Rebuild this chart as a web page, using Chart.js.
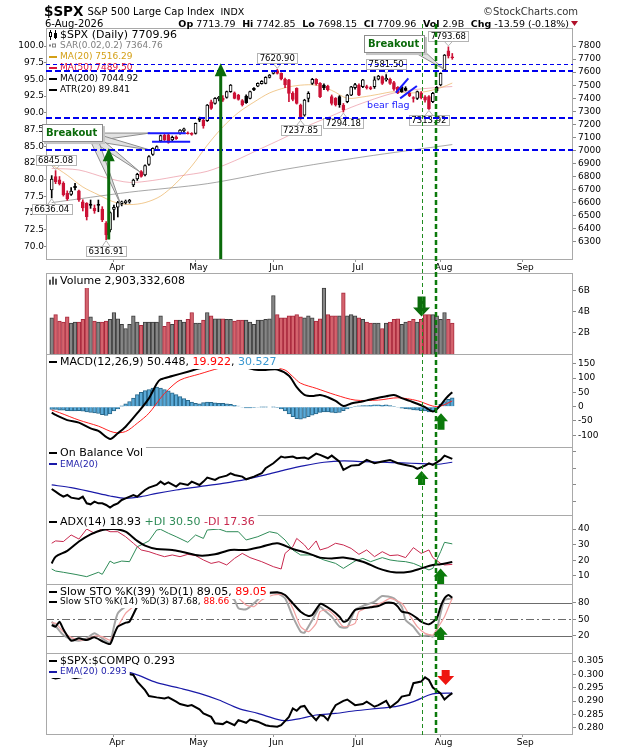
<!DOCTYPE html>
<html>
<head>
<meta charset="utf-8">
<title>$SPX Daily</title>
<script src="https://cdn.jsdelivr.net/npm/chart.js@4.4.1/dist/chart.umd.min.js"></script>
<style>
html,body{margin:0;padding:0;background:#ffffff;}
#wrap{position:relative;width:620px;height:750px;overflow:hidden;background:#fff;}
#wrap canvas{position:absolute;left:0;top:0;}
</style>
</head>
<body>
<div id="wrap">
<canvas id="cPrice" width="620" height="750"></canvas>
<canvas id="cVol" width="620" height="750"></canvas>
<canvas id="cMacd" width="620" height="750"></canvas>
<canvas id="cObv" width="620" height="750"></canvas>
<canvas id="cAdx" width="620" height="750"></canvas>
<canvas id="cSto" width="620" height="750"></canvas>
<canvas id="cRatio" width="620" height="750"></canvas>
</div>
<script>
// ================= DATA =================
const monthNames = ['Apr','May','Jun','Jul','Aug','Sep'];
const monthIdx   = [16,37,57,78,100,121];          // bar index of first session of each month
const priceTicks = [6300,6400,6500,6600,6700,6800,6900,7000,7100,7200,7300,7400,7500,7600,7700,7800];
const pctTicks   = [70,72.5,75,77.5,80,82.5,85,87.5,90,92.5,95,97.5,100];
const volTicks   = [2,4,6];
const macdTicks  = [-100,-50,0,50,100,150];
const obvTicks   = [4,8,12,16];
const adxTicks   = [10,20,30,40];
const stoTicks   = [20,50,80];
const ratioTicks = [0.280,0.285,0.290,0.295,0.300,0.305];

const opens = [6697,6800,6775,6748,6672,6662,6725,6690,6607,6594, 6588,6556,6586,6551,6441,6390,6548,6566,6592,6600,
 6606,6735,6781,6837,6812,6893,6970,7003,7072,7118, 7120,7080,7105,7131,7150,7135,7130,7131,7246,7233,
 7228,7373,7361,7395,7400,7407,7450,7442,7424,7381, 7417,7399,7476,7493,7512,7514,7560,7590,7611,7590,
 7545,7540,7437,7476,7348,7271,7399,7514,7545,7514, 7500,7493,7412,7399,7412,7348,7373,7424,7480,7501,
 7488,7490,7482,7488,7545,7565,7540,7545,7520,7483, 7488,7478,7440,7404,7399,7440,7410,7412,7373,7483,
 7501,7616,7764,7713.79];
const highs = [6807,6845.08,6800,6760,6690,6715,6748,6697,6622,6600, 6620,6582,6620,6569,6454,6530,6582,6610,6612,6620,
 6625,6780,6825,6845,6890,6960,7020,7035,7118,7125, 7128,7110,7112,7160,7172,7142,7136,7210,7255,7240,
 7352,7385,7405,7415,7420,7455,7505,7448,7430,7390, 7425,7455,7482,7518,7535,7565,7582,7612,7620.90,7595,
 7555,7545,7450,7480,7355,7392,7450,7552,7550,7520, 7510,7500,7425,7405,7420,7360,7430,7492,7515,7510,
 7545,7500,7490,7565,7575,7570,7581.50,7555,7530,7490, 7495,7488,7448,7412,7455,7450,7420,7420,7445,7490,
 7595,7735,7793.68,7742.85];
const lows = [6636.04,6745,6735,6650,6618,6655,6697,6610,6536,6467, 6556,6518,6530,6454,6316.91,6375,6467,6490,6575,6590,
 6596,6722,6770,6795,6805,6885,6962,6998,7065,7075, 7055,7070,7085,7125,7140,7125,7116,7125,7220,7170,
 7222,7315,7355,7380,7375,7400,7445,7395,7385,7340, 7360,7395,7458,7488,7508,7510,7555,7585,7585,7540,
 7480,7373,7380,7355,7237.85,7262,7372,7505,7500,7405, 7465,7455,7348,7340,7330,7294.18,7365,7420,7470,7420,
 7480,7470,7465,7475,7540,7505,7530,7505,7460,7435, 7445,7455,7412,7370,7390,7395,7370,7313.92,7365,7445,
 7495,7610,7708,7698.15];
const closes = [6781,6760,6745,6660,6628,6688,6715,6620,6560,6492, 6578,6536,6578,6467,6352,6523,6564,6600,6607,6612,
 6618,6773,6817,6800,6883,6952,7016,7029,7113,7080, 7062,7100,7090,7156,7165,7128,7122,7207,7232,7187,
 7348,7322,7399,7408,7385,7450,7501,7399,7391,7348, 7366,7450,7463,7514,7530,7560,7578,7603,7590,7548,
 7501,7437,7391,7361,7253,7386,7437,7545,7510,7412, 7480,7463,7361,7348,7350,7310,7424,7488,7505,7424,
 7540,7478,7474,7540,7570,7514,7552,7514,7470,7442, 7450,7460,7420,7398,7450,7405,7385,7318,7437,7455,
 7590,7731,7723.55,7709.96];
// volume in billions of shares
const volumesB = [3.4,3.7,3.1,3.0,3.5,2.9,3.0,3.0,3.25,6.45, 3.5,3.1,3.0,3.0,3.1,3.25,3.9,3.3,2.8,2.4,
 2.8,3.6,3.0,2.7,3.0,3.0,3.0,3.0,3.6,2.6, 3.0,2.8,3.2,3.2,3.0,3.25,3.9,2.9,2.9,3.2,
 3.9,3.6,3.3,3.3,3.3,3.25,3.25,3.1,3.2,3.2, 3.2,3.0,2.8,3.2,3.2,3.25,3.3,5.5,3.7,3.4,
 3.4,3.6,3.6,3.7,3.5,3.4,3.6,3.4,3.1,3.3, 6.2,3.7,3.6,3.6,3.6,5.75,3.6,3.7,3.6,3.4,
 3.25,3.0,2.9,2.9,2.9,2.4,2.9,3.0,3.25,3.3, 2.8,3.0,3.1,3.25,3.0,3.25,3.7,3.7,3.7,3.6,
 3.25,3.9,3.25,2.903];
// overlays read as [bar index, value]
const ma20Pts  = [[0,6890],[4,6810],[8,6720],[12,6660],[16,6605],[20,6585],[24,6600],[28,6650],[32,6750],[36,6880],[40,7040],[44,7180],[48,7290],[52,7370],[56,7440],[60,7480],[64,7500],[68,7500],[72,7460],[76,7400],[80,7410],[84,7430],[88,7450],[92,7440],[96,7450],[100,7480],[103,7516.29]];
const ma50Pts  = [[0,6862],[7,6850],[14,6790],[20,6755],[26,6770],[33,6805],[40,6840],[47,6920],[53,7003],[60,7100],[66,7190],[72,7265],[77,7330],[83,7395],[88,7440],[94,7468],[100,7484],[103,7489.5]];
const ma200Pts = [[0,6600],[20,6680],[40,6745],[60,6855],[80,6950],[103,7044.92]];

const macdPts   = [[0,-21],[1,-29],[4,-47],[7,-56],[10,-76],[12,-85],[15,-113],[17,-93],[19,-70],[22,-23],[25,29],[27,80],[28,95],[31,107],[35,122],[38,134],[41,140],[43,148],[45,153],[47,152],[49,142],[52,130],[55,128],[58,130],[61,108],[63,68],[65,41],[67,37],[69,41],[71,33],[73,20],[75,2],[77,11],[79,16],[81,22],[84,31],[86,36],[88,41],[90,30],[92,20],[94,10],[96,-2],[98,-17],[99,-9],[100,5],[101,23],[102,38],[103,50.448]];
const signalPts = [[0,-12],[2,-21],[7,-47],[12,-68],[16,-90],[19,-87],[22,-58],[25,-23],[28,30],[30,60],[33,93],[38,114],[43,134],[46,140],[50,145],[54,142],[57,136],[60,128],[62,105],[64,82],[68,64],[73,41],[78,23],[84,23],[89,31],[94,21],[98,2],[100,2],[103,19.922]];
const macdHist  = [-10,-10,-12,-12,-14,-15,-15,-14,-16,-18, -20,-22,-24,-28,-31,-25,-15,-8,3,10,
 18,30,42,50,56,60,65,68,65,60, 55,48,42,35,28,22,16,12,10,14, 16,15,13,12,12,10,8,5,2,-2,
 -4,-4,-3,-2,-1,-1,0,-1,-3,-8, -15,-25,-35,-42,-44,-40,-35,-30,-25,-20, -18,-18,-20,-22,-20,-14,-8,-3,1,3,
 4,4,5,6,6,5,6,4,1,-2, -5,-7,-9,-11,-12,-14,-15,-18,-17,-5, 8,18,26,30.527];

const obvPts    = [[0,7.04],[1,6.4],[2,5.76],[3,5.2],[4,5.6],[5,4.96],[7,4.64],[8,5.2],[9,3.6],[10,3.36],[11,4.0],[12,3.6],[13,3.6],[14,3.2],[15,2.56],[16,3.2],[17,3.6],[18,4.4],[19,4.8],[21,5.6],[22,5.2],[23,6.0],[24,6.8],[25,7.36],[27,8.0],[28,8.8],[29,8.16],[30,8.64],[32,7.6],[33,8.4],[35,8.0],[36,8.8],[38,8.0],[39,8.8],[40,9.76],[42,9.2],[43,9.76],[45,10.24],[46,10.8],[47,10.4],[49,10.0],[50,9.36],[52,10.0],[54,10.8],[55,12.0],[57,13.2],[59,14.8],[60,14.56],[62,14.8],[63,14.4],[65,14.56],[66,14.24],[68,15.52],[69,15.2],[71,14.4],[72,15.04],[74,13.6],[75,11.6],[77,12.64],[79,12.8],[81,14.0],[83,13.2],[85,13.6],[87,14.0],[89,13.2],[91,12.8],[93,12.4],[94,11.84],[96,12.64],[97,13.2],[98,12.8],[100,14.0],[101,15.04],[103,14.24]];
const obvEmaPts = [[0,8.0],[5,7.36],[10,6.4],[15,5.36],[19,4.8],[23,5.2],[27,6.0],[32,6.8],[38,7.6],[44,8.4],[50,9.36],[55,10.4],[60,11.6],[65,12.64],[70,13.44],[75,13.76],[80,13.6],[85,13.44],[90,13.28],[95,13.12],[99,12.96],[103,13.44]];

const adxPts   = [[0,18],[1,22.3],[4,26],[7,32],[10,36.6],[13,39.4],[16,40],[19,38.3],[22,32.4],[24,29.4],[27,27.2],[31,26.6],[34,25.1],[38,23],[42,23.8],[46,26.6],[50,26.6],[54,28.7],[58,30.9],[62,27.2],[66,24.4],[69,21.7],[72,21.2],[75,21.7],[80,19.1],[84,14.8],[88,12.3],[92,12.7],[95,14.8],[98,17],[100,17.4],[103,18.93]];
const pdiPts   = [[0,14.4],[1,13.1],[3,12.3],[6,11],[9,9.5],[12,12.3],[13,11],[15,19.5],[16,18],[18,19.5],[20,19.1],[22,28.7],[23,29.8],[25,32.4],[27,39.4],[28,39.8],[30,37.3],[32,35.1],[35,31.5],[37,36.2],[39,34],[40,39.4],[43,40],[45,38.3],[48,38.3],[50,33],[53,35.1],[56,38.3],[58,37.3],[60,33],[62,26.6],[64,23.4],[67,23.4],[68,22.3],[70,20.2],[73,18],[75,14.8],[78,19.5],[80,21.2],[82,19.1],[85,21.7],[87,20.2],[89,19.5],[91,19.1],[93,18],[95,15.9],[97,13.8],[98,14.8],[100,25.5],[101,31.5],[103,30.5]];
const mdiPts   = [[0,30.9],[1,32.4],[3,32],[5,36.2],[7,33.6],[9,40],[11,37.3],[13,40.5],[15,38.3],[17,38.3],[19,35.1],[21,30.9],[23,26.6],[25,25.5],[27,23.8],[29,22.3],[31,23.4],[33,22.3],[35,23.8],[37,23],[39,20.2],[41,18],[43,19.1],[45,17],[47,21.2],[49,24.4],[51,21.7],[54,19.1],[57,15.9],[59,14.4],[60,24.4],[62,28.7],[63,34],[65,29.8],[66,26.6],[68,32.4],[69,26.6],[71,28.1],[73,30.9],[75,29.8],[77,27.6],[79,23.8],[81,26.6],[83,22.3],[85,25.5],[87,23],[89,23.4],[91,21.7],[93,28.1],[95,24.4],[97,26.6],[98,21.7],[100,18],[101,17],[103,17.36]];

const stoK39Pts = [[0,39.5],[1,36.5],[2,45.5],[3,31.6],[5,11],[7,15.2],[9,12.2],[11,17],[13,10],[15,4.9],[16,21.3],[17,36.5],[19,43.7],[20,45.5],[22,72.8],[24,88],[27,94],[30,96],[33,95],[36,97],[40,98],[44,96],[48,93],[52,93],[55,97],[58,98.9],[60,94],[62,78.9],[64,63.7],[66,55.8],[67,57.7],[69,77.7],[70,75.8],[72,66.8],[74,54.6],[75,45.5],[76,47.4],[78,66.8],[80,69.8],[82,71.6],[84,74],[86,80.1],[88,78.9],[89,72.8],[90,63.7],[92,60.7],[94,51.6],[95,45.5],[97,40.7],[99,51.6],[100,72.8],[101,88],[102,94],[103,89.05]];
const stoK14Pts = [[0,45.5],[1,37.7],[3,21.3],[5,13.4],[7,11],[9,15.2],[11,24.3],[13,15.2],[15,7.4],[16,36.5],[17,60.7],[19,72.8],[21,78.9],[23,90],[26,95],[30,97],[34,92],[38,96],[42,95],[45,92],[47,85],[48,69.8],[50,68],[52,78.9],[54,92],[56,97],[58,97],[60,88],[62,54.6],[64,27.4],[65,25.5],[67,48.6],[69,72.8],[70,66.8],[72,54.6],[74,36.5],[76,35.2],[78,66.8],[80,74],[83,81.9],[85,92.2],[88,88],[90,72.8],[91,48.6],[93,36.5],[95,19.5],[97,21.3],[98,18.3],[99,30.4],[100,60.7],[101,85],[103,87.68]];
const stoD3Pts  = [[0,43.7],[1,42.5],[3,27.4],[5,17],[7,12.2],[9,13.4],[11,19.5],[13,18.3],[15,12.2],[17,36.5],[19,60.7],[21,72.8],[23,85],[26,93],[30,96],[34,94],[38,95],[42,95],[45,93],[48,88],[50,75.8],[52,72.8],[54,85],[57,94],[60,94],[62,69.8],[64,36.5],[66,27.4],[68,42.5],[69,63.7],[71,66.8],[73,54.6],[75,36.5],[78,42.5],[79,63.7],[82,72.8],[85,80.1],[87,88],[90,78.9],[92,57.7],[94,36.5],[96,24.3],[98,21.3],[99,31.6],[101,54.6],[103,88.66]];

const ratioPts    = [[0,0.2988],[1,0.2985],[2,0.2987],[3,0.2995],[4,0.2998],[5,0.2990],[6,0.2986],[7,0.2988],[8,0.2990],[9,0.2998],[10,0.3003],[12,0.3008],[14,0.3012],[16,0.3010],[18,0.3006],[19,0.3004],[21,0.2998],[22,0.2973],[24,0.2941],[25,0.2919],[27,0.2914],[29,0.2910],[30,0.2914],[32,0.2898],[33,0.2889],[35,0.2882],[36,0.2885],[38,0.2869],[39,0.2854],[41,0.2841],[42,0.2817],[44,0.2814],[45,0.2823],[47,0.2810],[48,0.2829],[50,0.2819],[51,0.2831],[53,0.2823],[55,0.2810],[56,0.2807],[58,0.2804],[59,0.2810],[61,0.2841],[62,0.2873],[63,0.2864],[64,0.2879],[65,0.2882],[66,0.2860],[68,0.2829],[69,0.2848],[70,0.2844],[71,0.2829],[72,0.2860],[73,0.2885],[75,0.2901],[76,0.2906],[78,0.2885],[80,0.2889],[81,0.2898],[83,0.2879],[84,0.2885],[86,0.2901],[87,0.2876],[89,0.2898],[90,0.2917],[92,0.2923],[93,0.2967],[95,0.2973],[96,0.2989],[97,0.2979],[98,0.2951],[100,0.2929],[101,0.2906],[102,0.2919],[103,0.2930]];
const ratioEmaPts = [[0,0.3006],[5,0.3006],[10,0.3008],[15,0.3010],[19,0.3010],[22,0.2998],[27,0.2969],[33,0.2948],[38,0.2929],[43,0.2904],[48,0.2873],[53,0.2854],[58,0.2832],[60,0.2827],[64,0.2835],[68,0.2848],[73,0.2854],[78,0.2864],[84,0.2873],[89,0.2881],[93,0.2898],[97,0.2923],[99,0.2929],[103,0.2930]];

// annotations (anchored in bar index / value units)
const priceLevels = [7665, 7612, 7250, 7000];
const priceMarks = [
  {t:'7620.90', i:58, p:7620.90, above:true},
  {t:'7237.85', i:64, p:7237.85, above:false},
  {t:'7294.18', i:75, p:7294.18, above:false},
  {t:'7581.50', i:86, p:7581.50, above:true},
  {t:'7313.92', i:97, p:7313.92, above:false},
  {t:'7793.68', i:102, p:7793.68, above:true},
  {t:'6845.08', i:1, p:6845.08, above:true},
  {t:'6636.04', i:0, p:6636.04, above:false},
  {t:'6316.91', i:14, p:6316.91, above:false}
];
const trendLines = [[[24.7,7131],[34.5,7131]], [[25.8,7067],[35.6,7067]], [[88.5,7442],[91.7,7552]], [[89.6,7399],[93.9,7494]]];
const priceArrows = [{i:14.66, from:6316.91, to:7016}, {i:43.46, from:6168, to:7667}];
const callouts = [
  {i:-2.5, p:7202, targets:[[25.3,7133],[25.3,7003],[22.7,6835],[17.8,6582]]},
  {i:80.3, p:7884, targets:[[100.9,7621]]}
];
const markerBars = [95.1, 98.9];
const panelArrows = {
  vol:{i:95.1, from:5.4, to:3.53},
  macd:{i:100.1, from:-81, to:-23},
  obv:{i:95.1, from:8.0, to:11.36},
  adx:{i:100.0, from:4.8, to:14.8},
  sto:{i:100.0, from:12.2, to:36.5},
  ratio:{i:101.3, from:0.30163, to:0.29601}
};

// ================= RENDERING =================
const F = '"DejaVu Sans", Verdana, sans-serif';
const font = (sz, bold) => (bold ? 'bold ' : '') + sz + 'px ' + F;
Chart.defaults.font.family = F;
Chart.defaults.animation = false;

const N = closes.length;
const idx = closes.map((_, i) => i);
const X_MIN = -1.466, X_MAX = 134.04;
const P = a => a.map(([x, y]) => ({x, y}));
const RED = '#cc1236';
const candleCol = idx.map(i => closes[i] >= (i ? closes[i-1] : opens[i]) ? '#000000' : RED);
const bodyFill = idx.map(i => closes[i] >= opens[i] ? '#ffffff' : candleCol[i]);
const volDown = idx.map(i => i > 0 && closes[i] < closes[i-1]);

const PANELS = {
  price:{top:28, bottom:259, xAxis:true},
  vol:{top:273, bottom:354},
  macd:{top:354, bottom:447},
  obv:{top:447, bottom:515},
  adx:{top:515, bottom:584},
  sto:{top:584, bottom:653},
  ratio:{top:653, bottom:734, xAxis:true}
};

function xScale(show){
  return {type:'linear', min:X_MIN, max:X_MAX, offset:false, display:show,
    grid:{display:true, drawOnChartArea:false, drawTicks:true, tickLength:3, color:'#9a9a9a', offset:false},
    border:{display:false},
    afterBuildTicks:s => { s.ticks = monthIdx.map(v => ({value:v})); },
    afterFit:s => { if (show) s.height = 14; else s.height = 0; },
    ticks:{autoSkip:false, maxRotation:0, minRotation:0, padding:0, labelOffset:3, color:'#000',
      font:{family:F, size:9}, callback:(v, i) => monthNames[i]}
  };
}
function yRight(min, max, ticks, fmt){
  return {type:'linear', position:'right', min, max,
    grid:{display:true, drawOnChartArea:false, drawTicks:true, tickLength:3, color:'#8a8a8a'},
    border:{display:false},
    afterBuildTicks:s => { s.ticks = ticks.map(v => ({value:v})); },
    afterFit:s => { s.width = 47; },
    ticks:{autoSkip:false, padding:2, color:'#000', font:{family:F, size:9}, callback:v => fmt(v)}
  };
}
function lineDs(pts, color, w, order, tension){
  return {type:'line', data:P(pts), borderColor:color, borderWidth:w, pointRadius:0,
    tension:tension || 0, order:order || 1, fill:false};
}
function panelBorder(ch){
  const a = ch.chartArea, c = ch.ctx;
  c.save(); c.strokeStyle = '#a9a9a9'; c.lineWidth = 1; c.setLineDash([]);
  c.strokeRect(Math.round(a.left)+0.5, Math.round(a.top)+0.5, Math.round(a.right-a.left)-1, Math.round(a.bottom-a.top));
  c.restore();
}
function icon(ctx, type, color, y){
  ctx.save(); ctx.fillStyle = color; ctx.strokeStyle = color; ctx.lineWidth = 1;
  if (type === 'line') { ctx.fillRect(49, Math.round(y)-1, 8, 2); }
  else if (type === 'candle') {
    ctx.beginPath(); ctx.moveTo(50.5, y-5); ctx.lineTo(50.5, y+5); ctx.moveTo(55.5, y-5); ctx.lineTo(55.5, y+4); ctx.stroke();
    ctx.fillStyle = '#fff'; ctx.fillRect(49, y-3, 3, 5); ctx.strokeRect(49.5, y-2.5, 2, 4);
    ctx.fillStyle = color; ctx.fillRect(54, y-2, 3, 5);
  }
  else if (type === 'dots') { ctx.fillRect(49, y-1, 2, 2); ctx.strokeRect(52.5, y-1.5, 3, 3); }
  else if (type === 'bars') { ctx.fillRect(49, y-1, 2, 5); ctx.fillRect(52, y-4, 2, 8); ctx.fillRect(55, y-2, 2, 6); }
  ctx.restore();
}
function legendLine(ctx, y, size, parts, iconType, iconColor, bg){
  ctx.save(); ctx.font = font(size); ctx.textBaseline = 'middle'; ctx.textAlign = 'left';
  const tx = 60; let w = 0; for (const p of parts) w += ctx.measureText(p[0]).width;
  if (bg) { ctx.fillStyle = '#fff'; ctx.fillRect(47, Math.round(y - size/2 - 1.5), tx - 47 + w + 3, size + 3); }
  if (iconType) icon(ctx, iconType, iconColor, y);
  let x = tx; for (const [t, c] of parts) { ctx.fillStyle = c; ctx.fillText(t, x, y); x += ctx.measureText(t).width; }
  ctx.restore();
}
function blockArrow(ctx, x, yFrom, yTo, color, shaftW, headW, headL){
  const dir = Math.sign(yTo - yFrom), yb = yTo - dir*headL;
  ctx.save(); ctx.fillStyle = color; ctx.beginPath();
  ctx.moveTo(x - shaftW/2, yFrom); ctx.lineTo(x + shaftW/2, yFrom); ctx.lineTo(x + shaftW/2, yb);
  ctx.lineTo(x + headW/2, yb); ctx.lineTo(x, yTo); ctx.lineTo(x - headW/2, yb); ctx.lineTo(x - shaftW/2, yb);
  ctx.closePath(); ctx.fill(); ctx.restore();
}
function panelArrow(ch, spec, color, down){
  const X = ch.scales.x, Y = ch.scales.y;
  if (down) blockArrow(ch.ctx, X.getPixelForValue(spec.i), Y.getPixelForValue(spec.from), Y.getPixelForValue(spec.to), color, 8, 17, 9);
  else blockArrow(ch.ctx, X.getPixelForValue(spec.i), Y.getPixelForValue(spec.from), Y.getPixelForValue(spec.to), color, 7, 14, 8);
}
function priceLabel(ctx, text, x, yPt, above){
  ctx.save(); ctx.font = font(8.5);
  const w = Math.round(ctx.measureText(text).width + 5), h = 10;
  const cy = above ? yPt - 11 : yPt + 11;
  const bx = Math.round(x - w/2) + 0.5, by = Math.round(cy - h/2) + 0.5;
  ctx.strokeStyle = '#b4b4b4'; ctx.lineWidth = 1;
  const ey = above ? by + h : by;
  ctx.beginPath(); ctx.moveTo(x - 4, ey); ctx.lineTo(x, yPt + (above ? -1 : 1)); ctx.lineTo(x + 4, ey); ctx.stroke();
  ctx.fillStyle = '#fff'; ctx.fillRect(bx, by, w, h); ctx.strokeRect(bx, by, w, h);
  ctx.fillStyle = '#000'; ctx.textBaseline = 'middle'; ctx.textAlign = 'center'; ctx.fillText(text, x, by + h/2 + 0.5);
  ctx.restore();
}
function callout(ctx, bx, by, targets){
  ctx.save(); ctx.font = font(10, true);
  const bw = Math.round(ctx.measureText('Breakout').width + 10), bh = 18;
  const ox = bx + bw - 10, oy = by + bh - 5;
  for (const [tx, ty] of targets) {
    const dx = tx - ox, dy = ty - oy, len = Math.hypot(dx, dy), nx = -dy/len*4, ny = dx/len*4;
    ctx.beginPath(); ctx.moveTo(ox + nx, oy + ny); ctx.lineTo(tx, ty); ctx.lineTo(ox - nx, oy - ny); ctx.closePath();
    ctx.fillStyle = 'rgba(222,222,222,0.92)'; ctx.fill(); ctx.strokeStyle = '#8c8c8c'; ctx.lineWidth = 1; ctx.stroke();
  }
  ctx.fillStyle = '#c4c4c4'; ctx.fillRect(bx + 2, by + 2, bw, bh);
  ctx.fillStyle = '#fff'; ctx.fillRect(bx, by, bw, bh);
  ctx.strokeStyle = '#8c8c8c'; ctx.strokeRect(Math.round(bx)+0.5, Math.round(by)+0.5, bw - 1, bh - 1);
  ctx.fillStyle = '#0a6a0a'; ctx.textBaseline = 'middle'; ctx.textAlign = 'left';
  ctx.fillText('Breakout', bx + 4, by + bh/2 + 0.5);
  ctx.restore();
}
function header(ctx){
  ctx.save(); ctx.textBaseline = 'alphabetic'; ctx.textAlign = 'left'; ctx.fillStyle = '#000';
  ctx.font = font(13.5, true); ctx.fillText('$SPX', 44, 16);
  let x = 44 + ctx.measureText('$SPX').width + 4;
  ctx.font = font(10); ctx.fillText('S&P 500 Large Cap Index', x, 15);
  x += ctx.measureText('S&P 500 Large Cap Index').width + 6;
  ctx.font = font(9.5); ctx.fillText('INDX', x, 15);
  ctx.textAlign = 'right'; ctx.fillStyle = '#333'; ctx.font = font(10); ctx.fillText('\u00A9StockCharts.com', 578, 15);
  ctx.textAlign = 'left'; ctx.fillStyle = '#000'; ctx.font = font(10); ctx.fillText('6-Aug-2026', 45, 27);
  const segs = [['Op',1],[' 7713.79',0],['  Hi',1],[' 7742.85',0],['  Lo',1],[' 7698.15',0],['  Cl',1],[' 7709.96',0],['  Vol',1],[' 2.9B',0],['  Chg',1],[' -13.59 (-0.18%)',0]];
  let tot = 0; for (const [t, b] of segs) { ctx.font = font(9.5, !!b); tot += ctx.measureText(t).width; }
  x = 569 - tot;
  for (const [t, b] of segs) { ctx.font = font(9.5, !!b); ctx.fillText(t, x, 27); x += ctx.measureText(t).width; }
  ctx.fillStyle = '#b0102a'; ctx.beginPath(); ctx.moveTo(571, 21); ctx.lineTo(578, 21); ctx.lineTo(574.5, 26); ctx.closePath(); ctx.fill();
  ctx.restore();
}

function mk(id, pnl, datasets, y, extra){
  extra = extra || {};
  const scales = {x:xScale(!!pnl.xAxis), y:y};
  if (extra.yL) scales.yL = extra.yL;
  return new Chart(document.getElementById(id), {
    type:'bar', data:{datasets},
    options:{responsive:false, animation:false, events:[],
      layout:{autoPadding:false, padding:{top:pnl.top, bottom:750 - pnl.bottom - (pnl.xAxis ? 14 : 0), left:extra.yL ? 0 : 46, right:0}},
      plugins:{legend:{display:false}, tooltip:{enabled:false}, title:{display:false}},
      scales},
    plugins:[{id:'deco'+id,
      beforeDatasetsDraw(ch){ if (extra.under) extra.under(ch); },
      afterDraw(ch){ panelBorder(ch); if (extra.over) extra.over(ch); }}]
  });
}

// ---------- price panel ----------
mk('cPrice', PANELS.price, [
  lineDs(ma200Pts, 'rgba(120,120,120,0.65)', 1, 6, 0.3),
  lineDs(ma50Pts, 'rgba(225,90,110,0.45)', 1, 5, 0.3),
  lineDs(ma20Pts, 'rgba(232,165,70,0.6)', 1, 4, 0.3),
  {type:'bar', data:idx.map(i => ({x:i, y:[lows[i], highs[i]]})), backgroundColor:candleCol, borderWidth:0,
    barThickness:1, grouped:false, order:2},
  {type:'bar', data:idx.map(i => ({x:i, y:[opens[i], closes[i]]})), backgroundColor:bodyFill, borderColor:candleCol,
    borderWidth:1, borderSkipped:false, barThickness:3, minBarLength:1, grouped:false, order:1}
], yRight(6168, 7938, priceTicks, v => String(v)), {
  yL:{type:'linear', position:'left', min:68.125, max:102.70,
    grid:{display:true, drawOnChartArea:false, drawTicks:true, tickLength:2, color:'#8a8a8a'}, border:{display:false},
    afterBuildTicks:s => { s.ticks = pctTicks.map(v => ({value:v})); }, afterFit:s => { s.width = 46; },
    ticks:{autoSkip:false, padding:0, color:'#000', font:{family:F, size:9}, callback:v => Number(v).toFixed(1)}},
  over(ch){
    const ctx = ch.ctx, X = ch.scales.x, Y = ch.scales.y, A = ch.chartArea;
    const px = v => X.getPixelForValue(v), py = v => Y.getPixelForValue(v);
    legendLine(ctx, 35, 11, [['$SPX (Daily) 7709.96', '#000']], 'candle', '#000', false);
    legendLine(ctx, 45.5, 9, [['SAR(0.02,0.2) 7364.76', '#808080']], 'dots', '#808080', false);
    legendLine(ctx, 57, 9, [['MA(20) 7516.29', '#d4a017']], 'line', '#d4a017', false);
    legendLine(ctx, 68, 9, [['MA(50) 7489.50', '#dc143c']], 'line', '#dc143c', false);
    legendLine(ctx, 79, 9, [['MA(200) 7044.92', '#000']], 'line', '#000', false);
    legendLine(ctx, 90, 9, [['ATR(20) 89.841', '#000']], 'line', '#000', false);
    for (const L of priceMarks) priceLabel(ctx, L.t, px(L.i), py(L.p), L.above);
    for (const C of callouts) callout(ctx, px(C.i), py(C.p), C.targets.map(([i, p]) => [px(i), py(p)]));
    ctx.save(); ctx.strokeStyle = '#0000ee';
    priceLevels.forEach((p, k) => {
      const w = k === 0 ? 1 : 2; ctx.lineWidth = w; ctx.setLineDash(w > 1 ? [6, 3] : [4, 3]);
      const yy = Math.round(py(p)) + (w % 2 ? 0.5 : 0);
      ctx.beginPath(); ctx.moveTo(A.left, yy); ctx.lineTo(A.right, yy); ctx.stroke();
    });
    ctx.setLineDash([]); ctx.strokeStyle = '#1a1aff'; ctx.lineWidth = 2;
    for (const [[i1, p1], [i2, p2]] of trendLines) { ctx.beginPath(); ctx.moveTo(px(i1), py(p1)); ctx.lineTo(px(i2), py(p2)); ctx.stroke(); }
    ctx.fillStyle = '#1a1aff'; ctx.font = font(9.5); ctx.textBaseline = 'middle'; ctx.textAlign = 'left';
    ctx.fillText('bear flag', px(81.1), py(7345));
    ctx.restore();
    for (const a of priceArrows) blockArrow(ctx, px(a.i), py(a.from), py(a.to), '#0a6a0a', 3, 12, 13);
    header(ctx);
  }
});

// ---------- volume ----------
mk('cVol', PANELS.vol, [
  {type:'bar', data:idx.map(i => ({x:i, y:volumesB[i]})), backgroundColor:idx.map(i => volDown[i] ? '#d4636d' : '#868686'),
    borderColor:idx.map(i => volDown[i] ? '#a8283c' : '#3c3c3c'), borderWidth:1, barThickness:3.7, grouped:false}
], yRight(0, 7.62, volTicks, v => v + 'B'), {
  over(ch){
    legendLine(ch.ctx, 280.7, 11, [['Volume 2,903,332,608', '#000']], 'bars', '#555', true);
    panelArrow(ch, panelArrows.vol, '#0b6b0b', true);
  }
});

// ---------- MACD ----------
mk('cMacd', PANELS.macd, [
  {type:'bar', data:idx.map(i => ({x:i, y:macdHist[i]})), backgroundColor:'#5aaad8', borderColor:'#28678a',
    borderWidth:1, barThickness:3.7, grouped:false, order:3},
  lineDs(signalPts, '#ff2020', 1, 2, 0.3),
  lineDs(macdPts, '#000000', 2, 1, 0.3)
], yRight(-141, 184, macdTicks, v => String(v)), {
  over(ch){
    legendLine(ch.ctx, 361.7, 11, [['MACD(12,26,9) 50.448, ', '#000'], ['19.922', '#ff0000'], [', ', '#000'], ['30.527', '#3a98d0']], 'line', '#000', true);
    panelArrow(ch, panelArrows.macd, '#0b7a0b', false);
  }
});

// ---------- OBV ----------
mk('cObv', PANELS.obv, [
  lineDs(obvEmaPts, '#1a1aa8', 1.2, 2, 0.3),
  lineDs(obvPts, '#000000', 2, 1, 0)
], yRight(0.8, 17.1, obvTicks, v => ''), {
  over(ch){
    legendLine(ch.ctx, 453.3, 11, [['On Balance Vol', '#000']], 'line', '#000', true);
    legendLine(ch.ctx, 464.3, 9, [['EMA(20)', '#1a1aa8']], 'line', '#1a1aa8', true);
    panelArrow(ch, panelArrows.obv, '#0b7a0b', false);
  }
});

// ---------- ADX ----------
mk('cAdx', PANELS.adx, [
  lineDs(pdiPts, '#2e8b57', 1, 3, 0),
  lineDs(mdiPts, '#c8284e', 1, 2, 0),
  lineDs(adxPts, '#000000', 2, 1, 0.3)
], yRight(4.8, 49, adxTicks, v => String(v)), {
  over(ch){
    legendLine(ch.ctx, 522.3, 11, [['ADX(14) 18.93 ', '#000'], ['+DI 30.50 ', '#2e8b57'], ['-DI 17.36', '#c8284e']], 'line', '#000', true);
    panelArrow(ch, panelArrows.adx, '#0b7a0b', false);
  }
});

// ---------- Slow Stochastics ----------
mk('cSto', PANELS.sto, [
  lineDs(stoK14Pts, '#a4a4a4', 2, 3, 0.2),
  lineDs(stoD3Pts, '#f2a0a0', 1.2, 2, 0.2),
  lineDs(stoK39Pts, '#000000', 2, 1, 0.2)
], yRight(-11.4, 114, stoTicks, v => String(v)), {
  under(ch){
    const ctx = ch.ctx, Y = ch.scales.y, A = ch.chartArea;
    ctx.save(); ctx.strokeStyle = '#6c6c6c'; ctx.lineWidth = 1;
    for (const v of [stoTicks[0], stoTicks[2]]) { const y = Math.round(Y.getPixelForValue(v)) + 0.5; ctx.beginPath(); ctx.moveTo(A.left, y); ctx.lineTo(A.right, y); ctx.stroke(); }
    ctx.setLineDash([8, 3, 2, 3]); const y = Math.round(Y.getPixelForValue(stoTicks[1])) + 0.5;
    ctx.beginPath(); ctx.moveTo(A.left, y); ctx.lineTo(A.right, y); ctx.stroke(); ctx.restore();
  },
  over(ch){
    legendLine(ch.ctx, 591.7, 11, [['Slow STO %K(39) %D(1) 89.05, ', '#000'], ['89.05', '#ff0000']], 'line', '#000', true);
    legendLine(ch.ctx, 601.7, 9, [['Slow STO %K(14) %D(3) 87.68, ', '#000'], ['88.66', '#ff0000']], 'line', '#000', true);
    panelArrow(ch, panelArrows.sto, '#0b7a0b', false);
  }
});

// ---------- $SPX:$COMPQ ----------
mk('cRatio', PANELS.ratio, [
  lineDs(ratioEmaPts, '#1a1aa8', 1.2, 2, 0.3),
  lineDs(ratioPts, '#000000', 2, 1, 0)
], yRight(0.2777, 0.3080, ratioTicks, v => Number(v).toFixed(3)), {
  over(ch){
    legendLine(ch.ctx, 660.7, 11, [['$SPX:$COMPQ 0.293', '#000']], 'line', '#000', true);
    legendLine(ch.ctx, 671.7, 9, [['EMA(20) 0.293', '#1a1aa8']], 'line', '#1a1aa8', true);
    panelArrow(ch, panelArrows.ratio, '#ee1510', true);
    // vertical signal lines across all panels
    const ctx = ch.ctx, X = ch.scales.x;
    ctx.save();
    markerBars.forEach((b, k) => {
      const x = Math.round(X.getPixelForValue(b)) + (k === 0 ? 0.5 : 0);
      ctx.strokeStyle = k === 0 ? '#1f8c1f' : '#0b7a0b';
      ctx.lineWidth = k === 0 ? 1 : 2.5;
      ctx.setLineDash(k === 0 ? [4, 3] : [5, 3]);
      ctx.beginPath(); ctx.moveTo(x, 24); ctx.lineTo(x, 735); ctx.stroke();
    });
    ctx.restore();
  }
});
</script>
</body>
</html>
